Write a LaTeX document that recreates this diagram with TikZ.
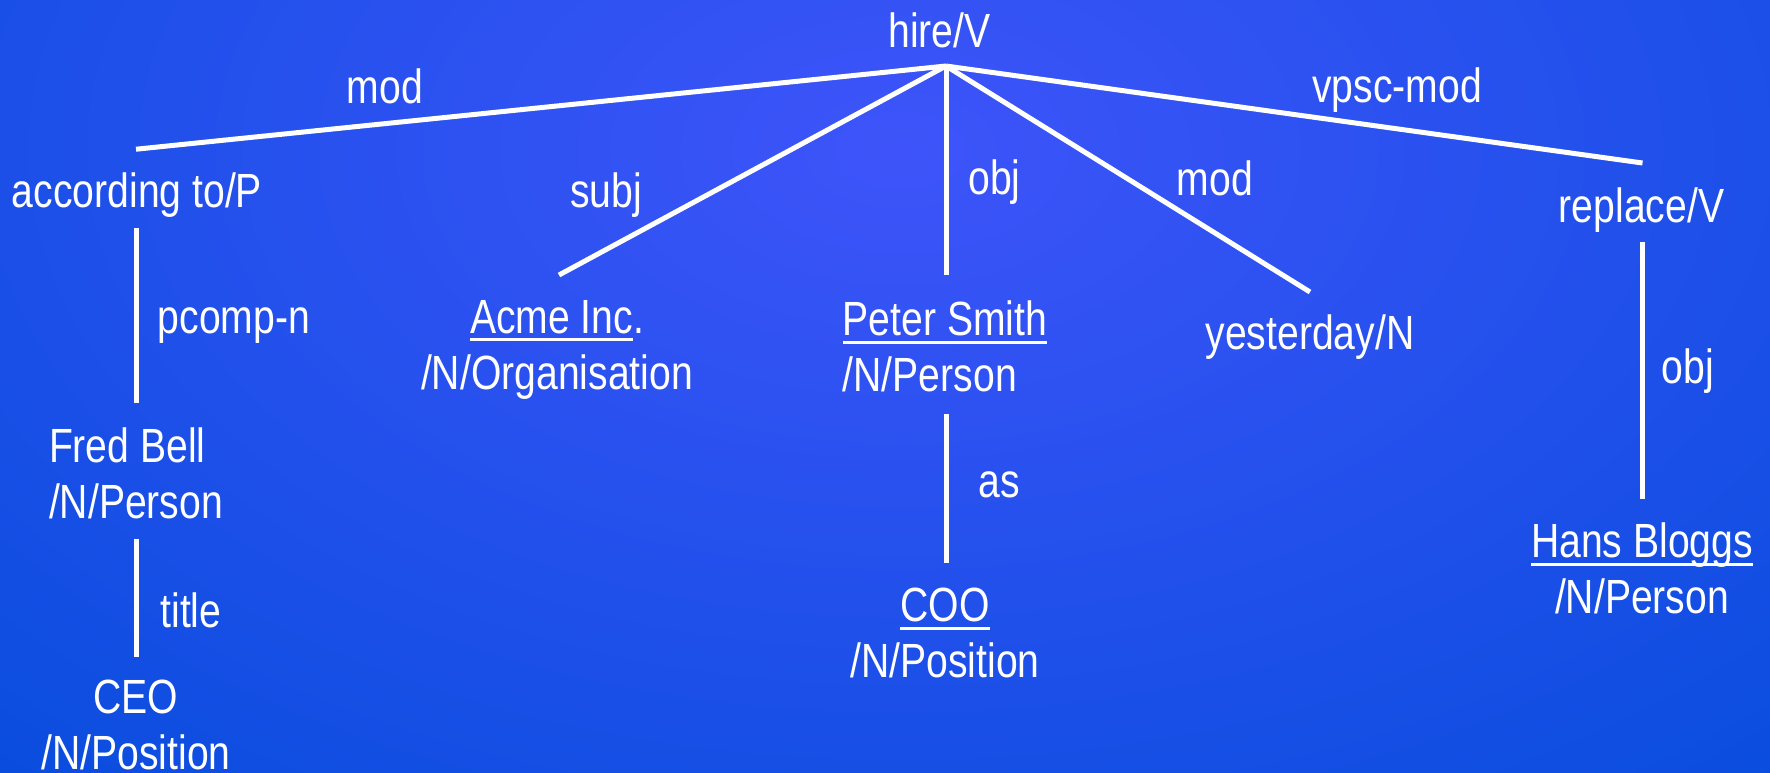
\documentclass[tikz,border=0pt]{standalone}
\usepackage{fontspec}
\setmainfont{Liberation Sans}[FakeStretch=0.815]
\usetikzlibrary{calc}
\definecolor{bgin}{RGB}{62,84,250}
\definecolor{bgout}{RGB}{2,76,218}
\newcommand\myul[1]{\setbox0\hbox{#1}\rlap{\rule[-4pt]{\wd0}{1.5pt}}\box0}
\begin{document}
\begin{tikzpicture}[x=0.5pt,y=-0.5pt,
  lbl/.style={text=white, inner sep=0pt, outer sep=0pt, font=\fontsize{24}{28}\selectfont},
  edge/.style={white, line width=2.5pt}]
\useasboundingbox (0,0) rectangle (1770,772);
\fill[bgout] (0,0) rectangle (1770,772);
\begin{scope}
\clip (0,0) rectangle (1770,772);
\shade[inner color=bgin, outer color=bgout] (900,150) ellipse [x radius=1550, y radius=950];
\end{scope}
% word nodes
\node[lbl, anchor=base] (hire) at (939.5,47) {hire/V};
\coordinate (J) at ($(hire.base)+(6.5,19)$);
\node[lbl, anchor=base] (acc) at (137,207) {according to/P};
\node[lbl, anchor=north, align=center] (acme) at (557,300) {\myul{Acme Inc}.\\/N/Organisation};
\node[lbl, anchor=north, align=left] (peter) at (945,301) {\myul{Peter Smith}\\/N/Person};
\node[lbl, anchor=base] (yest) at (1310,349) {yesterday/N};
\node[lbl, anchor=base] (repl) at (1641.5,222) {replace/V};
\node[lbl, anchor=north, align=left] (fred) at (136,428) {Fred Bell\\/N/Person};
\node[lbl, anchor=north, align=center] (ceo) at (136,680) {CEO\\/N/Position};
\node[lbl, anchor=north, align=center] (coo) at (945,588) {\myul{COO}\\/N/Position};
\node[lbl, anchor=north, align=center] (hans) at (1642,523) {\myul{Hans Bloggs}\\/N/Person};
% relation labels
\node[lbl, anchor=base] (lmodA) at (385,103) {mod};
\node[lbl, anchor=base] (lsubj) at (606,207) {subj};
\node[lbl, anchor=base] (lobjA) at (994.5,194) {obj};
\node[lbl, anchor=base] (lmodB) at (1215,195) {mod};
\node[lbl, anchor=base] (lvpsc) at (1397,102) {vpsc-mod};
\node[lbl, anchor=base] (lpcomp) at (234,333) {pcomp-n};
\node[lbl, anchor=base] (ltitle) at (191,627) {title};
\node[lbl, anchor=base] (las) at (999.5,497) {as};
\node[lbl, anchor=base] (lobjB) at (1688,383) {obj};
% connectors
\draw[edge] (J) -- ($(acc.north)+(-1,-23)$);
\draw[edge] (J) -- ($(acme.north)+(2,-25)$);
\draw[edge] (J) -- ($(peter.north)+(1,-26)$);
\draw[edge] (J) -- ($(yest.base)+(0,-57)$);
\draw[edge] (J) -- ($(repl.base)+(1,-59)$);
\draw[edge] ($(acc.base)+(-1,21)$) -- ($(fred.north)+(0,-25)$);
\draw[edge] ($(fred.south)+(0,20)$) -- ($(ceo.north)+(0,-23)$);
\draw[edge] ($(peter.south)+(1,22)$) -- ($(coo.north)+(1,-25)$);
\draw[edge] ($(repl.base)+(0.5,20)$) -- ($(hans.north)+(0,-24)$);
\end{tikzpicture}
\end{document}
